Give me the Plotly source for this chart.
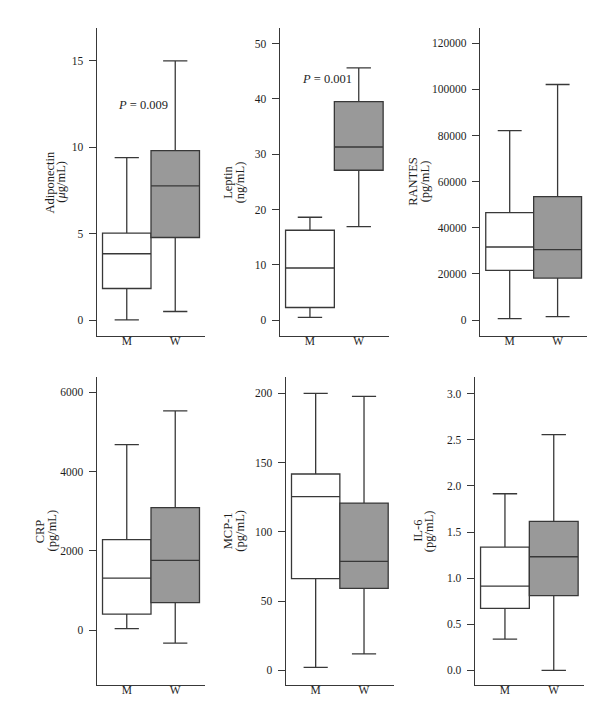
import plotly.graph_objects as go

groups = ["M", "W"]

title_line1 = ["Adiponectin", "Leptin", "RANTES", "CRP", "MCP-1", "IL-6"]
title_line2 = ["(<i>μ</i>g/mL)", "(ng/mL)", "(pg/mL)", "(pg/mL)", "(pg/mL)", "(pg/mL)"]

# [M, W] statistics per panel
lower = [[0.02, 0.5], [0.5, 16.9], [600, 1450], [34, -330], [2.2, 12.0], [0.34, 0.0]]
q1 = [[1.83, 4.78], [2.3, 27.1], [21500, 18200], [400, 690], [66.2, 59.2], [0.672, 0.81]]
median = [[3.84, 7.77], [9.43, 31.3], [31660, 30500], [1310, 1760], [125.4, 78.7], [0.914, 1.232]]
q3 = [[5.03, 9.81], [16.25, 39.5], [46550, 53500], [2280, 3090], [141.8, 120.8], [1.337, 1.615]]
upper = [[9.4, 15.0], [18.6, 45.6], [82100, 102100], [4680, 5530], [200, 197.8], [1.915, 2.555]]

p_labels = ["<i>P</i> = 0.009", "<i>P</i> = 0.001"]
p_pos = [(0.33, 12.46), (0.34, 43.6)]

yranges = [[-0.9, 16.9], [-2.8, 52.8], [-6800, 126600], [-1380, 6380], [-10.3, 211.6], [-0.155, 3.177]]
ydticks = [5, 10, 20000, 2000, 50, 0.5]
ytick0 = [0, 0, 0, 0, 0, 0]
yformats = ["d", "d", "d", "d", "d", ".1f"]

W_, H_ = 600, 718
xdom_px = [(88.7, 197.3), (271.7, 381.0), (472.0, 579.3),
           (88.7, 197.3), (277.7, 386.0), (466.7, 576.0)]
ydom_px = [(20, 327.7)] * 3 + [(369.3, 676.7)] * 3
# centre x (px) of the two rotated title lines
title_x_px = [(41.7, 52.9), (220.0, 231.5), (405.0, 416.5),
              (32.3, 43.5), (220.3, 231.7), (409.8, 421.2)]

line_col = "#383838"
txt_col = "#1e1e1e"
fills = ["white", "#999999"]
font_fam = "'Liberation Serif', 'Times New Roman', Times, serif"
fsize = 11.5
tsize = 12.5

fig = go.Figure()
layout = {}
annotations = []
for i in range(6):
    n = "" if i == 0 else str(i + 1)
    for g in range(2):
        fig.add_trace(go.Box(
            x=[groups[g]], q1=[q1[i][g]], median=[median[i][g]], q3=[q3[i][g]],
            lowerfence=[lower[i][g]], upperfence=[upper[i][g]],
            fillcolor=fills[g], line=dict(color=line_col, width=1.3),
            whiskerwidth=0.5, boxpoints=False, width=1,
            xaxis="x" + n, yaxis="y" + n, showlegend=False, hoverinfo="skip",
        ))
    x0, x1 = xdom_px[i]
    y0, y1 = ydom_px[i]
    layout["xaxis" + n] = dict(
        domain=[x0 / W_, x1 / W_], anchor="y" + n, type="category",
        categoryorder="array", categoryarray=groups,
        range=[-0.62, 1.62], showline=True, linecolor=line_col, linewidth=1.3,
        ticks="", showgrid=False, zeroline=False, ticklabelstandoff=-6,
        tickfont=dict(family=font_fam, size=fsize, color=txt_col),
    )
    layout["yaxis" + n] = dict(
        domain=[1 - y1 / H_, 1 - y0 / H_], anchor="x" + n,
        range=yranges[i], tick0=ytick0[i], dtick=ydticks[i], tickformat=yformats[i],
        showline=True, linecolor=line_col, linewidth=1.3, ticks="outside",
        ticklen=7, tickwidth=1.3, tickcolor=line_col, showgrid=False, zeroline=False,
        ticklabelstandoff=3,
        tickfont=dict(family=font_fam, size=fsize, color=txt_col),
    )
    ymid = 1 - (y0 + y1) / 2 / H_
    for text, xp in zip([title_line1[i], title_line2[i]], title_x_px[i]):
        annotations.append(dict(
            x=xp / W_, y=ymid, xref="paper", yref="paper", text=text,
            textangle=-90, showarrow=False, xanchor="center", yanchor="middle",
            font=dict(family=font_fam, size=tsize, color=txt_col),
        ))

for k in range(2):
    n = "" if k == 0 else str(k + 1)
    annotations.append(dict(
        x=p_pos[k][0], y=p_pos[k][1], xref="x" + n, yref="y" + n,
        text=p_labels[k], showarrow=False,
        font=dict(family=font_fam, size=tsize, color=txt_col),
    ))

fig.update_layout(
    width=W_, height=H_, margin=dict(l=0, r=0, t=0, b=0),
    paper_bgcolor="white", plot_bgcolor="white",
    boxmode="overlay", boxgap=0, boxgroupgap=0,
    annotations=annotations, **layout,
)
fig.write_html("out.html")
